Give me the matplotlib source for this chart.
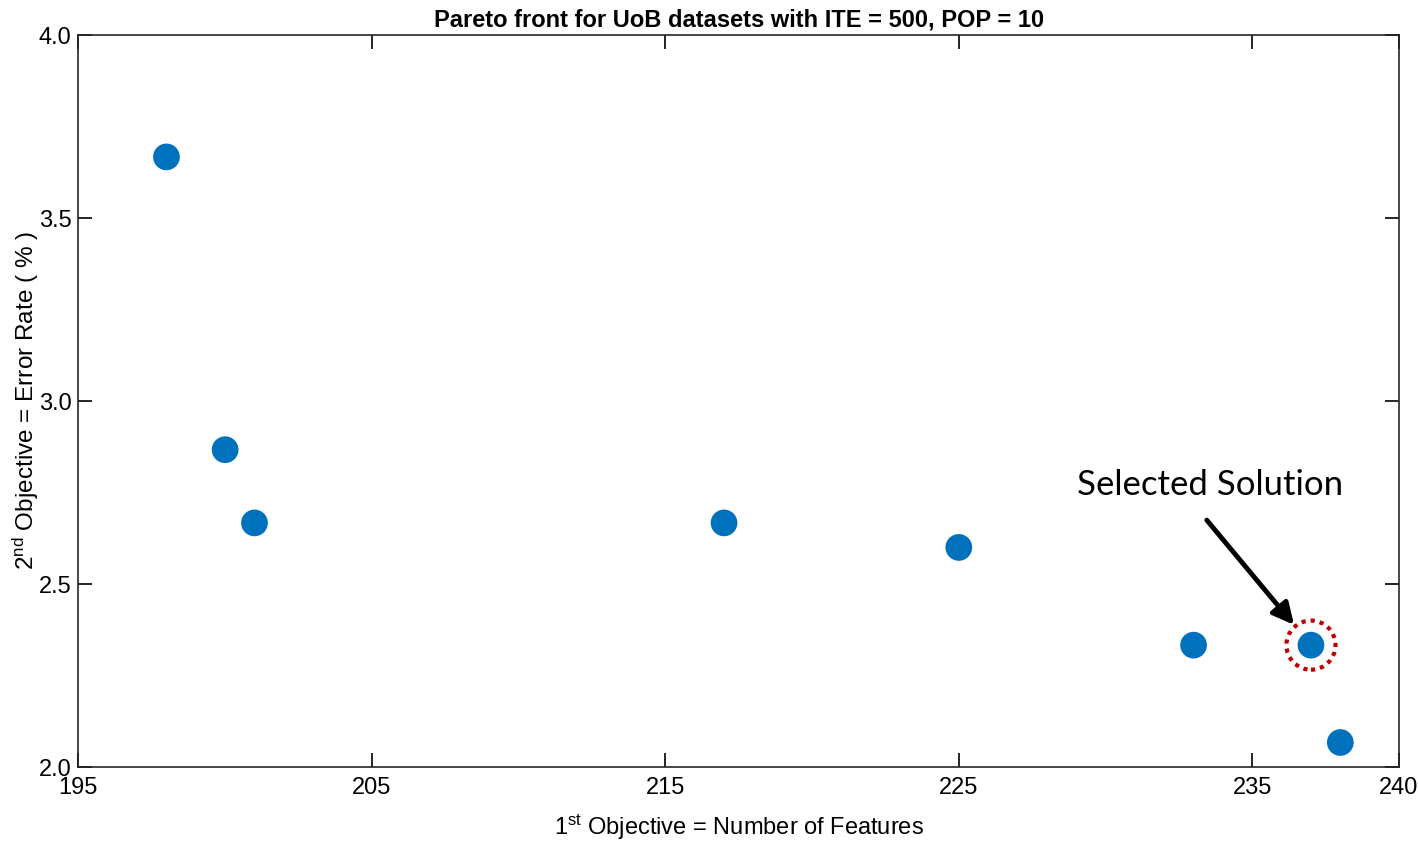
import matplotlib.pyplot as plt

# pareto front data
n_features = [198, 200, 201, 217, 225, 233, 237, 238]
error_rate = [3.667, 2.867, 2.667, 2.667, 2.6, 2.333, 2.333, 2.067]
selected = 6

x_ticks = [195, 205, 215, 225, 235, 240]
y_ticks = [2.0, 2.5, 3.0, 3.5, 4.0]

plt.rcParams['font.family'] = ['Liberation Sans', 'DejaVu Sans']
plt.rcParams['mathtext.default'] = 'regular'

fig = plt.figure(figsize=(14.18, 8.44), dpi=100)
ax = fig.add_axes([0.0553, 0.0912, 0.9313, 0.8673])

ax.scatter(n_features, error_rate, s=370, color='#0072BD', edgecolors='none', zorder=3)

# red dotted ring around the chosen solution
ax.scatter([n_features[selected]], [error_rate[selected]], s=1250, facecolors='none',
           edgecolors='#C00000', linewidths=3, linestyles=(0, (1, 1.2)), zorder=4)

ax.annotate('', xy=(n_features[selected], error_rate[selected]), xycoords='data',
            xytext=(-75, 90), textcoords='offset points',
            arrowprops=dict(arrowstyle='-|>', color='black', lw=3.5, shrinkA=0, shrinkB=19,
                            mutation_scale=32))
ax.annotate('Selected Solution', xy=(n_features[selected], error_rate[selected]), xycoords='data',
            xytext=(-73, 115), textcoords='offset points', ha='center', va='center',
            fontsize=25, family=['Lato', 'DejaVu Sans'])

ax.set_xlim(195, 240)
ax.set_ylim(2.0, 4.0)
ax.set_xticks(x_ticks)
ax.set_yticks(y_ticks)
ax.set_yticklabels(['%.1f' % v for v in y_ticks])
ax.tick_params(direction='in', top=True, right=True, length=10, width=1.2, labelsize=17)
ax.tick_params(axis='x', pad=7)
ax.tick_params(axis='y', pad=5)
for sp in ax.spines.values():
    sp.set_linewidth(1.2)
    sp.set_color('#262626')

ax.set_title('Pareto front for UoB datasets with ITE = 500, POP = 10', fontsize=17,
             fontweight='bold', pad=6)
ax.set_xlabel('1$^{st}$ Objective = Number of Features', fontsize=17, labelpad=10)
ax.set_ylabel('2$^{nd}$ Objective = Error Rate ( % )', fontsize=17.5, labelpad=-2)

fig.savefig('out.png', dpi=100)
